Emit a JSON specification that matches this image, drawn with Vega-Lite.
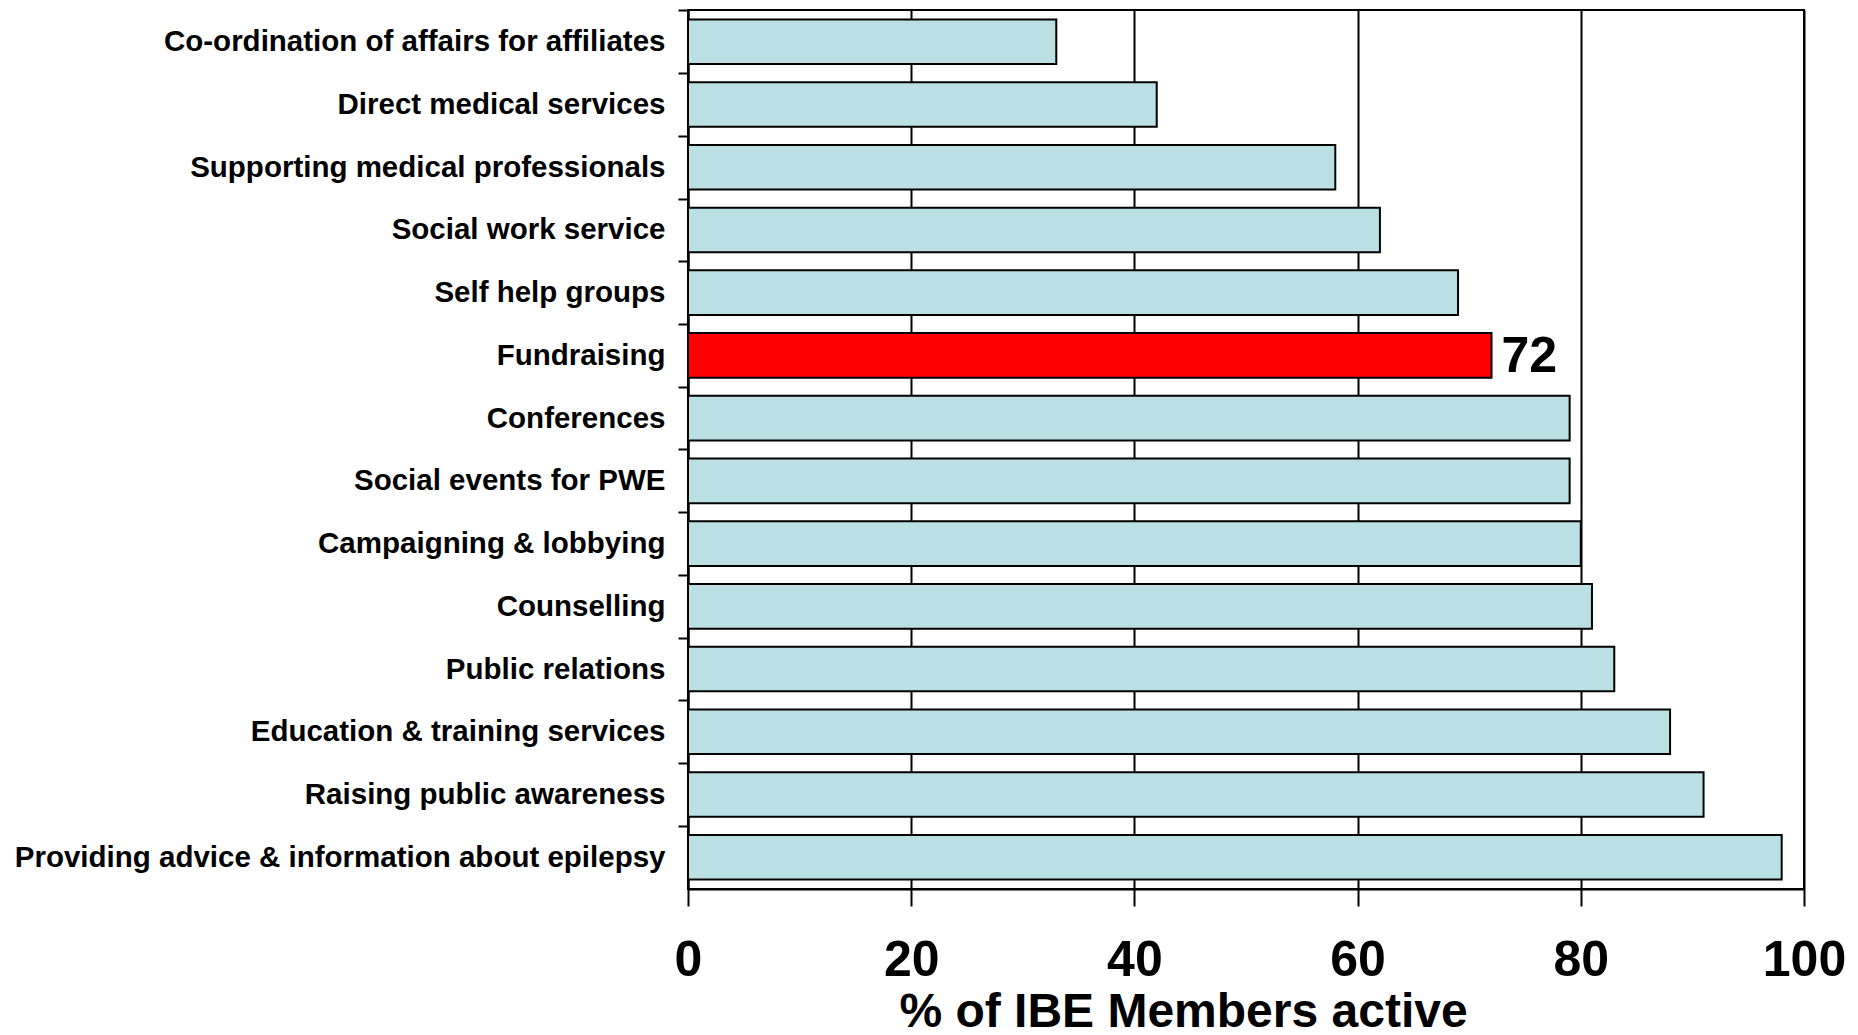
{
  "$schema": "https://vega.github.io/schema/vega-lite/v6.json",
  "width": 1116,
  "height": 879,
  "autosize": "none",
  "padding": {"left": 688, "top": 10, "right": 54, "bottom": 146},
  "background": "white",
  "config": {
    "font": "Liberation Sans",
    "view": {"stroke": "black", "strokeWidth": 2},
    "axis": {"domainColor": "black", "tickColor": "black", "labelColor": "black", "titleColor": "black"}
  },
  "data": {
    "values": [
      {"activity": "Co-ordination of affairs for affiliates", "pct": 33, "hl": "no"},
      {"activity": "Direct medical services", "pct": 42, "hl": "no"},
      {"activity": "Supporting medical professionals", "pct": 58, "hl": "no"},
      {"activity": "Social work service", "pct": 62, "hl": "no"},
      {"activity": "Self help groups", "pct": 69, "hl": "no"},
      {"activity": "Fundraising", "pct": 72, "hl": "yes"},
      {"activity": "Conferences", "pct": 79, "hl": "no"},
      {"activity": "Social events for PWE", "pct": 79, "hl": "no"},
      {"activity": "Campaigning & lobbying", "pct": 80, "hl": "no"},
      {"activity": "Counselling", "pct": 81, "hl": "no"},
      {"activity": "Public relations", "pct": 83, "hl": "no"},
      {"activity": "Education & training services", "pct": 88, "hl": "no"},
      {"activity": "Raising public awareness", "pct": 91, "hl": "no"},
      {"activity": "Providing advice & information about epilepsy", "pct": 98, "hl": "no"}
    ]
  },
  "encoding": {
    "y": {
      "field": "activity", "type": "nominal", "sort": null,
      "scale": {"paddingInner": 0.29, "paddingOuter": 0.15},
      "axis": {
        "title": null, "labelFont": "Liberation Sans", "labelFontWeight": "bold", "labelFontSize": 29.5,
        "labelPadding": 13, "tickSize": 10, "tickWidth": 2, "tickOffset": -31.4, "labelOffset": 31.4, "domainWidth": 2, "labelLimit": 700
      }
    },
    "x": {
      "field": "pct", "type": "quantitative",
      "scale": {"domain": [0, 100]},
      "axis": {
        "title": "% of IBE Members active", "values": [0, 20, 40, 60, 80, 100],
        "grid": true, "gridColor": "black", "gridWidth": 2, "gridOpacity": 1,
        "tickSize": 17, "tickWidth": 2, "domainWidth": 2,
        "labelFont": "Liberation Sans", "labelFontWeight": "bold", "labelFontSize": 50, "labelPadding": 29,
        "labelFlush": false,
        "titleFont": "Liberation Sans", "titleFontWeight": "bold", "titleFontSize": 48, "titlePadding": 3,
        "titleX": 495
      }
    }
  },
  "layer": [
    {
      "mark": {"type": "bar", "stroke": "black", "strokeWidth": 2},
      "encoding": {
        "color": {
          "field": "hl", "type": "nominal",
          "scale": {"domain": ["no", "yes"], "range": ["#BAE0E3", "#FF0000"]},
          "legend": null
        }
      }
    },
    {
      "transform": [{"filter": "datum.hl === 'yes'"}],
      "mark": {"type": "text", "align": "left", "baseline": "middle", "dx": 10, "dy": 2, "font": "Liberation Sans", "fontWeight": "bold", "fontSize": 50, "color": "black"},
      "encoding": {"text": {"field": "pct", "type": "quantitative"}}
    }
  ]
}
